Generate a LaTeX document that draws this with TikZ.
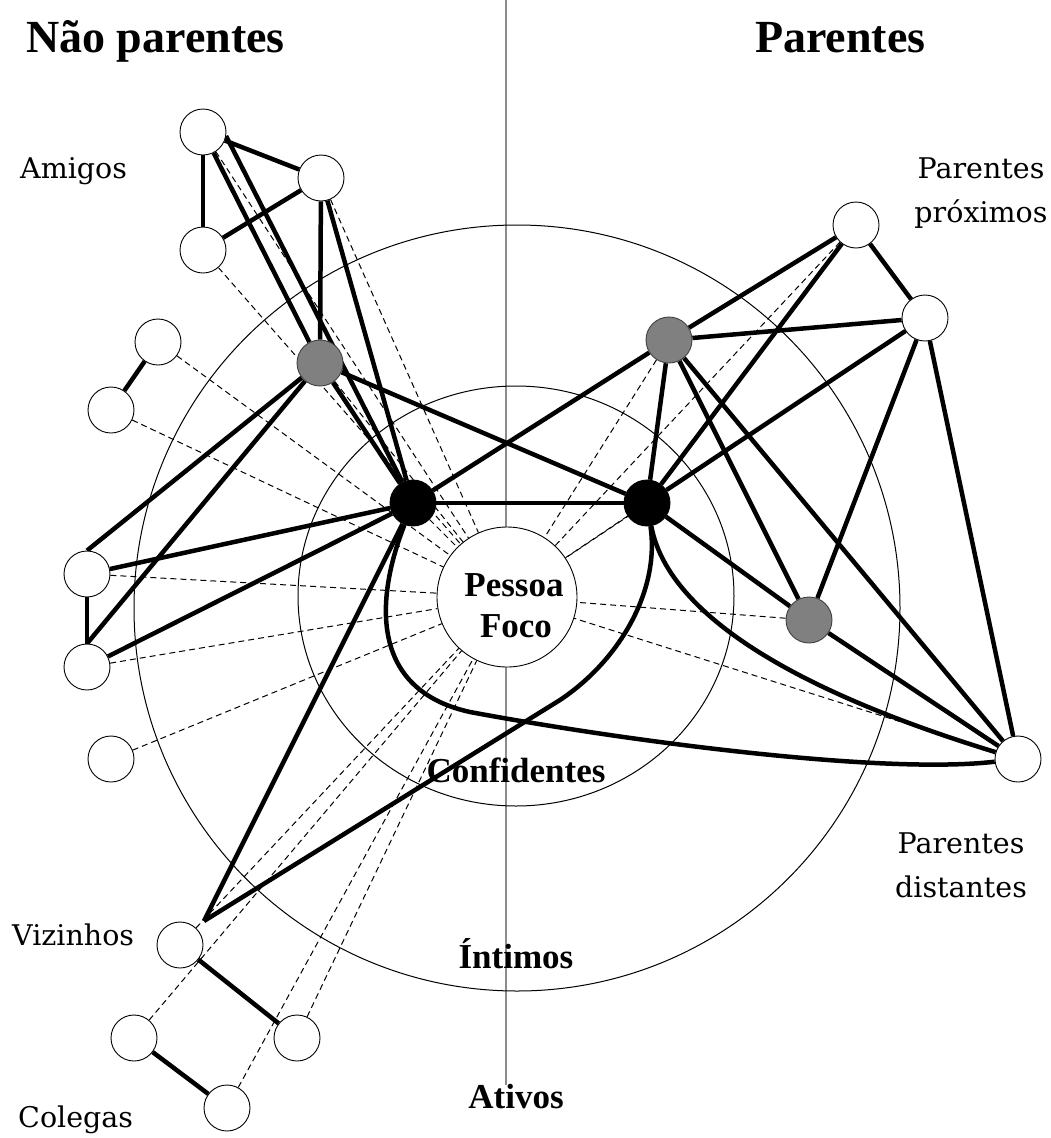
\documentclass[tikz,border=0pt]{standalone}
\usepackage{fontspec}
\setmainfont{Liberation Serif}
\newfontfamily\lblfont{DejaVu Serif}
\pgfdeclarelayer{back}
\pgfdeclarelayer{mid}
\pgfsetlayers{back,mid,main}
\definecolor{nodegray}{RGB}{128,128,128}
\definecolor{axisgray}{RGB}{140,140,140}
\begin{document}
\begin{tikzpicture}[x=1pt,y=-1pt,
  wn/.style={circle,draw=black,line width=0.9pt,fill=white,minimum size=46pt,inner sep=0pt},
  gn/.style={wn,fill=nodegray,draw=black!75},
  bn/.style={wn,fill=black},
  focus/.style={circle,draw=black,line width=0.9pt,fill=white,minimum size=140pt,inner sep=0pt},
  tl/.style={line width=4.5pt,black},
  dl/.style={line width=1pt,black,dash pattern=on 6pt off 4pt},
  ring/.style={line width=1pt,black},
  ttl/.style={font=\fontsize{46}{50}\selectfont\bfseries,inner sep=0pt,anchor=base west},
  btxt/.style={font=\fontsize{35}{40}\selectfont\bfseries,inner sep=0pt,anchor=base},
  ltxt/.style={font=\lblfont\fontsize{28.5}{30}\selectfont,inner sep=0pt,anchor=base}
]
\useasboundingbox (0,0) rectangle (1051,1138);

% nodes
\node[focus] (F) at (507,597) {};
\node[wn] (A1) at (203,132) {};
\node[wn] (A2) at (321,178) {};
\node[wn] (A3) at (203,250) {};
\node[wn] (A4) at (158,342) {};
\node[wn] (A5) at (111,410) {};
\node[gn] (G1) at (320,363) {};
\node[wn] (L1) at (87,574) {};
\node[wn] (L2) at (87,667) {};
\node[wn] (L3) at (111,759) {};
\node[bn] (B1) at (413,503) {};
\node[bn] (B2) at (647,503) {};
\node[gn] (G2) at (669,340) {};
\node[wn] (P1) at (856,225) {};
\node[wn] (P2) at (925,318) {};
\node[gn] (G3) at (809,620) {};
\node[wn] (PD) at (1018,759) {};
\node[wn] (V1) at (180,945) {};
\node[wn] (V2) at (297,1038) {};
\node[wn] (C1) at (134,1038) {};
\node[wn] (C2) at (227,1108) {};
\coordinate (vtip) at (204,921);
\coordinate (axtop) at (506,0);
\coordinate (axbot) at (506,1085);

\begin{pgfonlayer}{back}
  \draw[line width=1.6pt,axisgray] (axtop) -- (axbot);
  \draw[ring] (517,608) circle[radius=383];
  \draw[ring] (516,596) ellipse[x radius=218,y radius=210];
\end{pgfonlayer}

\begin{pgfonlayer}{mid}
  \foreach \n in {A1,A2,A3,A4,A5,G1,L1,L2,L3,B1,B2,G2,P1,P2,G3,PD,V1,V2,C1,C2}
    \draw[dl] (\n) -- (F);
  % friends
  \draw[tl] (A1) -- (A2);
  \draw[tl] (A1) -- (A3);
  \draw[tl] (A3) -- (A2);
  \draw[tl] (A1.-10) -- (B1);
  \draw[tl] (A1) -- (G1);
  \draw[tl] (A2) -- (G1);
  \draw[tl] (A2) -- (B1);
  \draw[tl] (G1) -- (B1);
  \draw[tl] (G1) -- (B2);
  \draw[tl] (G1) -- (L1.north);
  \draw[tl] (G1) -- (L2.north);
  \draw[tl] (A4) -- (A5);
  \draw[tl] (L1) -- (L2);
  \draw[tl] (B1) -- (L1);
  \draw[tl] (B1) -- (L2);
  \draw[tl] (B1) -- (B2);
  \draw[tl] (B1) -- (G2);
  \draw[tl] (B1) -- (vtip);
  \draw[tl] (B2) .. controls (660,590) and (620,660) .. (560,700) -- (vtip);
  \draw[tl] (B1) .. controls (375,600) and (370,690) .. (470,712)
               .. controls (620,740) and (880,775) .. (PD);
  \draw[tl] (B2) .. controls (665,600) and (760,680) .. (PD);
  % relatives
  \draw[tl] (B2) -- (G2);
  \draw[tl] (B2) -- (G3);
  \draw[tl] (B2) -- (P1);
  \draw[tl] (B2) -- (P2);
  \draw[tl] (G2) -- (P1);
  \draw[tl] (G2) -- (P2);
  \draw[tl] (G2) -- (G3);
  \draw[tl] (G2) -- (PD);
  \draw[tl] (P1) -- (P2);
  \draw[tl] (P2) -- (G3);
  \draw[tl] (P2) -- (PD);
  \draw[tl] (G3) -- (PD);
  % neighbours / colleagues
  \draw[tl] (V1) -- (V2);
  \draw[tl] (C1) -- (C2);
\end{pgfonlayer}

% texts
\node[ttl] (tNP) at (26,52) {Não parentes};
\node[ttl] (tP) at (755,52) {Parentes};
\node[ltxt,anchor=base west] (lAm) at (20,178) {Amigos};
\node[ltxt] (lPP1) at (981,178) {Parentes};
\node[ltxt] (lPP2) at (981,222) {próximos};
\node[ltxt] (lPD1) at (961,853) {Parentes};
\node[ltxt] (lPD2) at (961,897) {distantes};
\node[ltxt,anchor=base west] (lVz) at (12,945) {Vizinhos};
\node[ltxt,anchor=base west] (lCo) at (18,1127) {Colegas};
\node[btxt] (tPe) at (514,596) {Pessoa};
\node[btxt] (tFo) at (516,637) {Foco};
\node[btxt] (tCo) at (516,782) {Confidentes};
\node[btxt] (tIn) at (516,968) {Íntimos};
\node[btxt] (tAt) at (516,1108) {Ativos};
\end{tikzpicture}
\end{document}
